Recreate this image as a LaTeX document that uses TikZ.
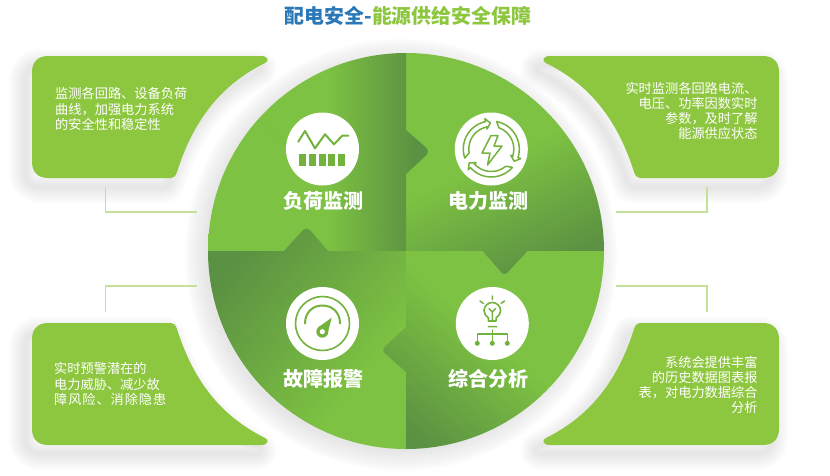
\documentclass[tikz,border=0pt]{standalone}
\usepackage{fontspec}
\setmainfont{Noto Sans CJK SC}
\usetikzlibrary{%
  positioning
 ,calc
}
\definecolor{leaf}{HTML}{7DC242}
\definecolor{leafdark}{HTML}{5B9142}
\definecolor{cardgreen}{HTML}{8DC63F}
\definecolor{titleblue}{HTML}{2A78B8}
\definecolor{titlegreen}{HTML}{8DC63F}
\definecolor{leader}{HTML}{C5E09B}
\pgfdeclarehorizontalshading{tlshade}{100bp}{color(0bp)=(leaf); color(52bp)=(leaf); color(72bp)=(leafdark); color(100bp)=(leafdark)}
\pgfdeclarehorizontalshading{trshade}{100bp}{color(0bp)=(leaf); color(48bp)=(leaf); color(76bp)=(leafdark); color(100bp)=(leafdark)}
\pgfdeclarehorizontalshading{blshade}{100bp}{color(0bp)=(leafdark); color(25bp)=(leafdark); color(66bp)=(leaf); color(100bp)=(leaf)}
\pgfdeclarehorizontalshading{brshade}{100bp}{color(0bp)=(leafdark); color(22bp)=(leafdark); color(52bp)=(leaf); color(100bp)=(leaf)}
\tikzstyle{cardtext}=[text=white,inner sep=0pt,font=\fontsize{13.2}{15.1}\selectfont]
\tikzstyle{lab}=[text=white,inner sep=0pt,font=\fontsize{20}{22}\selectfont\bfseries]
\tikzstyle{disc}=[circle,fill=white,inner sep=0pt,minimum size=73pt]
\tikzstyle{iconline}=[draw=leaf!92!black,line width=1.7pt,line cap=round,line join=round]
\tikzstyle{iconfill}=[fill=leaf!92!black]
\tikzstyle{leaderline}=[draw=leader,line width=1.1pt]
\newcommand{\cardpath}{(48,56) -- (261,56) .. controls (268,56) and (270,61) .. (265,63) .. controls (225,83) and (195,115) .. (177,172) .. controls (175.5,176) and (174,178) .. (171,178) -- (48,178) .. controls (38,178) and (32,172) .. (32,162) -- (32,72) .. controls (32,62) and (38,56) .. (48,56) -- cycle}

\begin{document}
\begin{tikzpicture}[x=1pt,y=-1pt]
      \useasboundingbox (0,0) rectangle (830,475);
      \fill[white] (0,0) rectangle (830,475);
      % cards with their soft shadows
      \foreach \tx/\ty/\sx/\sy in {0/0/1/1,811/0/-1/1,0/501/1/-1,811/501/-1/-1} {
        \foreach \w in {32,28,...,4} {
          \begin{scope}[shift={(-7,9)}]
            \begin{scope}[shift={(\tx,\ty)},xscale=\sx,yscale=\sy]
              \draw[black!70,opacity=.016,line width=\w pt,line join=round] \cardpath;
            \end{scope}
          \end{scope}
        }
        \begin{scope}[shift={(\tx,\ty)},xscale=\sx,yscale=\sy]
          \fill[cardgreen] \cardpath;
        \end{scope}
      }
      % shadow of the wheel
      \foreach \r in {216,214,...,196}
        \fill[black!70,opacity=.013] (401,255) circle[radius=\r];
      % wheel
      \shade[shading=trshade,shading angle=-65] (406,53) arc[start angle=270,end angle=360,radius=198] -- (528,251) -- (507.5,273) .. controls (505.5,275) and (503.5,275) .. (501.5,273) -- (482,251) -- (406,251) -- cycle;
      \shade[shading=tlshade] (406,251) -- (208,251) arc[start angle=180,end angle=270,radius=198] -- (406,130) -- (426.5,148) .. controls (428.5,150) and (428.5,153) .. (426.5,155) -- (406,174) -- cycle;
      \shade[shading=blshade,shading angle=-40] (406,251) -- (328,251) -- (310,230) .. controls (308,228) and (305,228) .. (303,230) -- (284,251) -- (208,251) arc[start angle=180,end angle=90,radius=198] -- cycle;
      \shade[shading=brshade,shading angle=50] (406,251) -- (482,251) -- (501.5,273) .. controls (503.5,275) and (505.5,275) .. (507.5,273) -- (528,251) -- (604,251) arc[start angle=0,end angle=90,radius=198] -- (406,372) -- (384.5,353) .. controls (382.5,351) and (382.5,349) .. (384.5,347) -- (406,327) -- cycle;
      \draw[leafdark,opacity=.18,line width=.3pt] (258,120) -- (405,250);
      % white discs
      \node[disc] (ic_0) at (322.5,149) {};
      \node[disc] (ic_1) at (491.3,149) {};
      \node[disc] (ic_2) at (322.5,323.5) {};
      \node[disc] (ic_3) at (492.3,323.5) {};
      % load icon
      \draw[iconline,line width=2pt] (298.3,141.7) -- (305,131) -- (315,148.3) -- (325,134.3) -- (334,144.3) -- (342.3,135.7) -- (348.3,135.7);
      \foreach \i in {0,...,4}
        \fill[iconfill] (298.7+\i*9.9,154.3) rectangle +(7,12);
      % power icon
      \begin{scope}[shift={(491.3,149)}]
        \foreach \a in {0,120,240} {
          \begin{scope}[rotate=\a]
            \draw[iconline,line width=1.5pt,fill=white] plot[domain=161:258,samples=16] (\x:28) -- (258:31) -- (268:26) -- (258:20.5) -- (258:23) -- plot[domain=258:170,samples=16] (\x:22.5) -- cycle;
          \end{scope}
        }
      \end{scope}
      \draw[iconline,line width=1.5pt] (491,135.5) -- (482,153) -- (490,153) -- (487.5,165) -- (502,146) -- (494,146) -- (498,135.5) -- cycle;
      % alarm icon
      \draw[iconline,line width=1.6pt] (322.5,323.5) circle[radius=27];
      \draw[iconline,line width=2pt] (305,323.5) .. controls (305,312) and (313,305.5) .. (322.5,305.5) .. controls (332,305.5) and (340,312) .. (340,323.5);
      \fill[iconfill] (318,327.5) -- (331.7,317.7) -- (327.5,334) -- cycle;
      \fill[iconfill] (322.3,331.7) circle[radius=6];
      \fill[white] (322.3,331.7) circle[radius=2.6];
      % analysis icon
      \draw[iconline,line width=1.6pt] (488.5,321) -- (488.5,318) .. controls (486,316) and (484,314) .. (484,310.5) .. controls (484,306) and (488,302.5) .. (492.3,302.5) .. controls (496.6,302.5) and (500.6,306) .. (500.6,310.5) .. controls (500.6,314) and (498.6,316) .. (496.1,318) -- (496.1,321) -- cycle;
      \draw[iconline,line width=1.4pt] (492.3,320) -- (492.3,311) (489,308.5) -- (492.3,312) -- (495.6,308.5);
      \draw[iconline,line width=1.5pt] (492.3,296) -- (492.3,299.5) (480,301) -- (483.3,303.3) (504.5,301) -- (501.2,303.3) (488.3,326.7) -- (496.7,326.7);
      \draw[iconline,line width=1.4pt] (492.3,330) -- (492.3,342) (477.3,342) -- (477.3,334) -- (507.3,334) -- (507.3,342);
      \foreach \x in {477.3,492.3,507.3}
        \fill[iconfill] (\x,343.3) circle[radius=2.5];
      % wheel labels
      \node[lab] (lab_0) at (323,200.7) {负荷监测};
      \node[lab] (lab_1) at (488,200.7) {电力监测};
      \node[lab] (lab_2) at (323,379) {故障报警};
      \node[lab] (lab_3) at (488,379) {综合分析};
      % card texts
      \node[cardtext,anchor=west,align=left] (txt_0) at (55,109) {监测各回路、设备负荷\\曲线，加强电力系统\\的安全性和稳定性};
      \node[cardtext,anchor=east,align=right] (txt_1) at (757.7,111) {实时监测各回路电流、\\电压、功率因数实时\\参数，及时了解\\能源供应状态};
      \node[cardtext,anchor=west,align=left] (txt_2) at (54,384) {实时预警潜在的\\电力威胁、减少故\\{\addfontfeature{LetterSpace=7}障风险、消除隐患}};
      \node[cardtext,anchor=east,align=right] (txt_3) at (757.7,385) {系统会提供丰富\\的历史数据图表报\\表，对电力数据综合\\分析};
      % leader lines
      \coordinate (a_0) at (105.5,187);
      \coordinate (b_0) at (105.5,212);
      \coordinate (c_0) at (197,212);
      \coordinate (a_1) at (707,187);
      \coordinate (b_1) at (707,212);
      \coordinate (c_1) at (616,212);
      \coordinate (a_2) at (105.5,312);
      \coordinate (b_2) at (105.5,286);
      \coordinate (c_2) at (197,286);
      \coordinate (a_3) at (707,312);
      \coordinate (b_3) at (707,286);
      \coordinate (c_3) at (616,286);
      \foreach \i in {0,...,3}
        \draw[leaderline] (a_\i) -- (b_\i) -- (c_\i);
      % title
      \node[inner sep=0pt,font=\fontsize{19.9}{22}\selectfont\bfseries] (title) at (408,15.5) {\textcolor{titleblue}{配电安全-}\textcolor{titlegreen}{能源供给安全保障}};
    \end{tikzpicture}
\end{document}
